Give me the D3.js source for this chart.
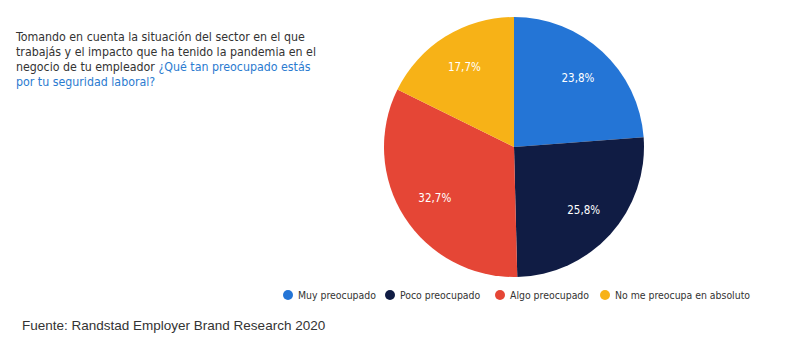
<!DOCTYPE html>
<html><head><meta charset="utf-8">
<script src="https://cdn.jsdelivr.net/npm/d3@7"></script>
<style>body{margin:0;background:#fff;} svg{display:block;}</style>
</head><body>
<svg id="c" width="788" height="347"></svg>
<script>
const categories = ["Muy preocupado", "Poco preocupado", "Algo preocupado", "No me preocupa en absoluto"];
const values = [23.8, 25.8, 32.7, 17.7];
const colors = ["#2475d6", "#101c44", "#e54636", "#f7b217"];
const titleLines = [
  [["Tomando en cuenta la situación del sector en el que", "#333"]],
  [["trabajás y el impacto que ha tenido la pandemia en el", "#333"]],
  [["negocio de tu empleador ", "#333"], ["¿Qué tan preocupado estás", "#2b7bd0"]],
  [["por tu seguridad laboral?", "#2b7bd0"]]
];
const source = "Fuente: Randstad Employer Brand Research 2020";

const svg = d3.select("#c");
const cx = 514, cy = 147, r = 130;
const pie = d3.pie().sort(null).value(d => d)(values);
const arc = d3.arc().innerRadius(0).outerRadius(r);
const labelArc = d3.arc().innerRadius(94).outerRadius(94);
const g = svg.append("g").attr("transform", `translate(${cx},${cy})`);
g.selectAll("path").data(pie).join("path")
  .attr("d", arc).attr("fill", (d, i) => colors[i]);
g.selectAll("text").data(pie).join("text")
  .attr("transform", d => `translate(${labelArc.centroid(d)})`)
  .attr("text-anchor", "middle").attr("dy", "0.35em")
  .attr("fill", "#fff").attr("font-family", "DejaVu Sans Condensed, DejaVu Sans").attr("font-size", 11.5)
  .text(d => d.data.toFixed(1).replace(".", ",") + "%");

const t = svg.append("text").attr("font-family", "DejaVu Sans Condensed, DejaVu Sans").attr("font-size", 12.3);
titleLines.forEach((line, i) => {
  line.forEach((seg, j) => {
    const ts = t.append("tspan").attr("fill", seg[1]).text(seg[0]);
    if (j === 0) ts.attr("x", 16).attr("y", 41 + i * 15);
  });
});

const legendX = [288, 390, 500, 605];
const lg = svg.append("g");
categories.forEach((c, i) => {
  lg.append("circle").attr("cx", legendX[i]).attr("cy", 295).attr("r", 5).attr("fill", colors[i]);
  lg.append("text").attr("x", legendX[i] + 10).attr("y", 295).attr("dy", "0.35em")
    .attr("font-family", "DejaVu Sans Condensed, DejaVu Sans").attr("font-size", 10.4).attr("fill", "#333").text(c);
});

svg.append("text").attr("x", 22).attr("y", 330).attr("font-family", "Liberation Sans")
  .attr("font-size", 13.5).attr("fill", "#333").text(source);
</script>
</body></html>
